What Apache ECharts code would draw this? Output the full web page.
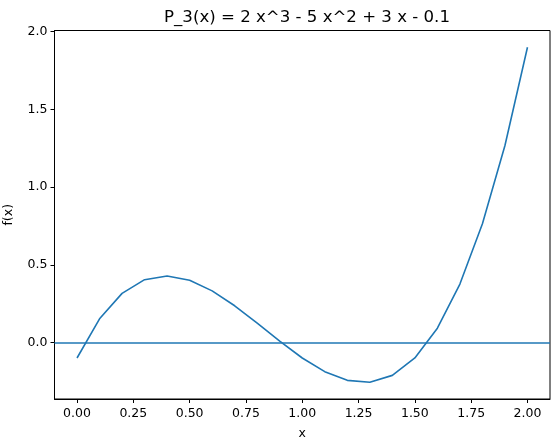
<!DOCTYPE html>
<html>
<head>
<meta charset="utf-8">
<script src="https://cdn.jsdelivr.net/npm/echarts@6/dist/echarts.min.js"></script>
<style>
  html, body { margin: 0; padding: 0; background: #fff; }
  #chart { width: 555px; height: 442px; }
</style>
</head>
<body>
<div id="chart"></div>
<script>
  // sample points of the cubic
  const xValues = [0.0, 0.1, 0.2, 0.3, 0.4, 0.5, 0.6, 0.7, 0.8, 0.9, 1.0,
                   1.1, 1.2, 1.3, 1.4, 1.5, 1.6, 1.7, 1.8, 1.9, 2.0];
  const yValues = [-0.1, 0.152, 0.316, 0.404, 0.428, 0.4, 0.332, 0.236, 0.124, 0.008, -0.1,
                   -0.188, -0.244, -0.256, -0.212, -0.1, 0.092, 0.376, 0.764, 1.268, 1.9];
  const xTicks = [0, 0.25, 0.5, 0.75, 1.0, 1.25, 1.5, 1.75, 2.0];
  const yTicks = [0, 0.5, 1.0, 1.5, 2.0];
  const hLine = 0;

  const blue = '#1f77b4';
  const font = 'DejaVu Sans';

  let chart = echarts.init(document.getElementById('chart'));

  let axisCommon = {
    axisLine: { show: true, onZero: false, lineStyle: { color: '#000', width: 1 } },
    splitLine: { show: false },
    axisLabel: { color: '#000', fontFamily: font, fontSize: 12.5 },
    axisTick: { show: true, inside: false, length: 4, lineStyle: { color: '#000', width: 1 } },
  };

  let option = {
    animation: false,
    backgroundColor: '#fff',
    title: {
      text: 'P_3(x) = 2 x^3 - 5 x^2 + 3 x - 0.1',
      left: 302, top: 4, textAlign: 'center',
      textStyle: { fontFamily: font, fontSize: 16.6, fontWeight: 'normal', color: '#000' },
    },
    grid: {
      left: 54.5, right: 5, top: 30.5, bottom: 43,
      outerBoundsMode: 'none',
      containLabel: false,
      show: true, borderColor: '#000', borderWidth: 1, backgroundColor: 'transparent',
    },
    xAxis: {
      type: 'value', min: -0.1, max: 2.1,
      name: 'x', nameLocation: 'middle', nameGap: 28,
      nameTextStyle: { fontFamily: font, fontSize: 12.5, color: '#000' },
      axisLine: axisCommon.axisLine,
      splitLine: axisCommon.splitLine,
      axisTick: Object.assign({ customValues: xTicks }, axisCommon.axisTick),
      axisLabel: Object.assign({
        customValues: xTicks, margin: 8,
        formatter: v => v.toFixed(2),
      }, axisCommon.axisLabel),
    },
    yAxis: {
      type: 'value', min: -0.364, max: 2.008,
      name: 'f(x)', nameLocation: 'middle', nameGap: 39, nameRotate: 90,
      nameTextStyle: { fontFamily: font, fontSize: 12.5, color: '#000' },
      axisLine: axisCommon.axisLine,
      splitLine: axisCommon.splitLine,
      axisTick: Object.assign({ customValues: yTicks }, axisCommon.axisTick),
      axisLabel: Object.assign({
        customValues: yTicks, margin: 7,
        formatter: v => v.toFixed(1),
      }, axisCommon.axisLabel),
    },
    series: [
      {
        type: 'line',
        data: xValues.map((x, i) => [x, yValues[i]]),
        showSymbol: false,
        lineStyle: { color: blue, width: 1.6 },
        markLine: {
          silent: true,
          symbol: ['none', 'none'],
          label: { show: false },
          lineStyle: { color: blue, width: 1.6, type: 'solid' },
          data: [{ yAxis: hLine }],
        },
      },
    ],
  };

  chart.setOption(option);
</script>
</body>
</html>
